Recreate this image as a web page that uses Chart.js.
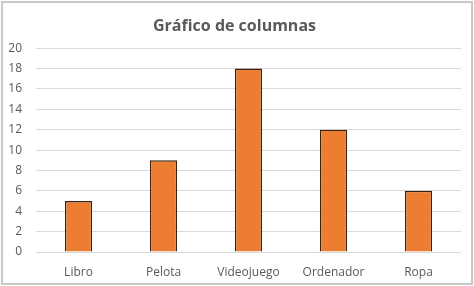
<!DOCTYPE html>
<html><head><meta charset="utf-8">
<script src="https://cdn.jsdelivr.net/npm/chart.js@4"></script>
<style>html,body{margin:0;padding:0;background:#fff;}#wrap{width:474px;height:286px;position:relative;}</style>
</head><body><div id="wrap"><canvas id="c" width="474" height="286"></canvas></div>
<script>
const categories = ["Libro", "Pelota", "Videojuego", "Ordenador", "Ropa"];
const values = [5, 9, 18, 12, 6];
const titleText = "Gráfico de columnas";

const frame = {
  id: 'frame',
  beforeDraw(chart) {
    const ctx = chart.ctx;
    ctx.save();
    ctx.fillStyle = '#fff';
    ctx.fillRect(0, 0, chart.width, chart.height);
    ctx.strokeStyle = '#c8c8c8';
    ctx.lineWidth = 2;
    ctx.strokeRect(2, 2, chart.width - 4, chart.height - 4);
    ctx.restore();
  }
};

new Chart(document.getElementById('c'), {
  type: 'bar',
  data: { labels: categories, datasets: [{ data: values, backgroundColor: '#ED7D31', borderColor: '#3a2212', borderWidth: 1.4, barPercentage: 0.32, categoryPercentage: 1 }] },
  options: {
    responsive: false, animation: false, devicePixelRatio: 1,
    layout: { padding: { left: 8, right: 13, top: 13, bottom: 5 } },
    plugins: {
      legend: { display: false }, tooltip: { enabled: false },
      title: { display: true, text: titleText, color: '#595959', font: { family: 'Open Sans', size: 16, weight: 'bold' }, padding: { top: 4, bottom: 12 } }
    },
    scales: {
      x: { afterFit(s) { s.height = 29; }, grid: { display: false }, border: { display: false }, ticks: { color: '#595959', font: { family: 'Open Sans', size: 12 }, padding: 5 } },
      y: { min: 0, max: 20, afterFit(s) { s.width = 28; }, ticks: { stepSize: 2, color: '#595959', font: { family: 'Open Sans', size: 12 }, padding: 14 }, grid: { color: '#d9d9d9', drawTicks: false }, border: { display: false } }
    }
  },
  plugins: [frame]
});
</script></body></html>
